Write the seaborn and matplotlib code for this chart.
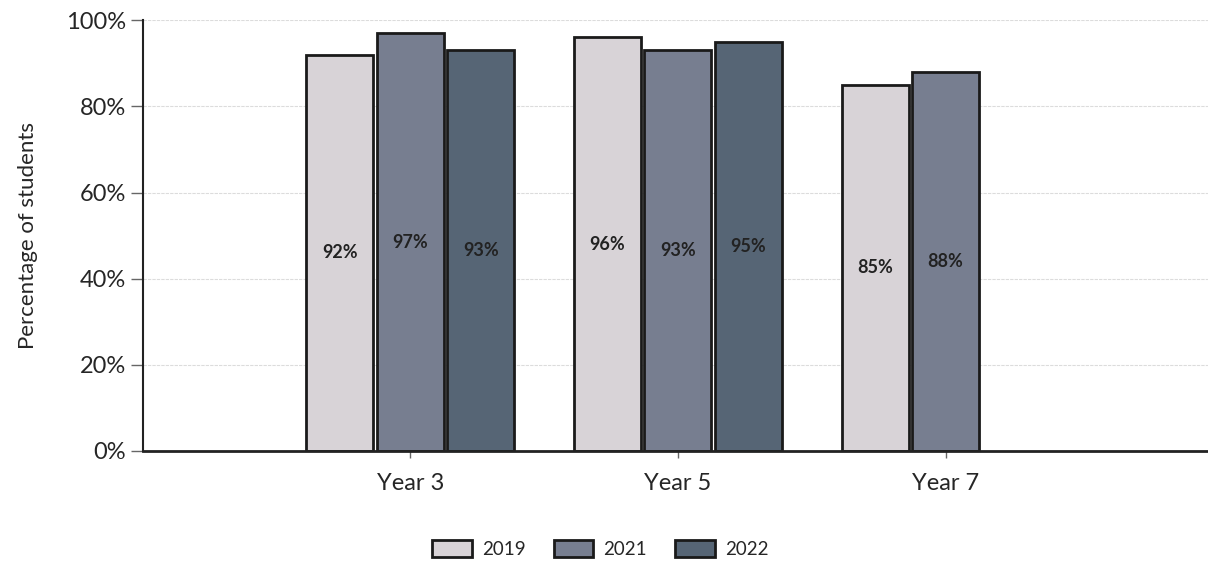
import numpy as np
import pandas as pd
import seaborn as sns
import matplotlib.pyplot as plt
from matplotlib.ticker import PercentFormatter

# values (percent of students)
groups = ['Year 3', 'Year 5', 'Year 7']
years = ['2019', '2021', '2022']
pct_2019 = [92, 96, 85]
pct_2021 = [97, 93, 88]
pct_2022 = [93, 95, np.nan]
colors = ['#d8d3d7', '#777e90', '#566575']

df = pd.DataFrame({
    'group': groups * 3,
    'year': [y for y in years for _ in groups],
    'pct': pct_2019 + pct_2021 + pct_2022,
})

sns.set_style('white')
plt.rcParams['font.family'] = ['Lato', 'DejaVu Sans']

fig = plt.figure(figsize=(12.08, 5.63), dpi=100)
ax = fig.add_axes([0.118, 0.199, 0.882, 0.765])

sns.barplot(data=df, x='group', y='pct', hue='year', palette=colors,
            width=0.79, gap=0.05, edgecolor='#1a1a1a', linewidth=2,
            saturation=1, ax=ax, legend=True)

for cont in ax.containers:
    ax.bar_label(cont, labels=[f'{v:.0f}%' if not np.isnan(v) else '' for v in cont.datavalues],
                 label_type='center', fontsize=13, fontweight='bold', color='#222222')

ax.set_xlim(-1, 2.98)
ax.set_ylim(0, 100)
ax.set_yticks(range(0, 101, 20))
ax.yaxis.set_major_formatter(PercentFormatter(decimals=0))
ax.yaxis.grid(True, color='#dcdcdc', linestyle=(0, (3, 1)), linewidth=0.8)
ax.set_axisbelow(True)

for s in ['top', 'right']:
    ax.spines[s].set_visible(False)
ax.spines['left'].set_linewidth(1.5)
ax.spines['bottom'].set_linewidth(2)
ax.spines['left'].set_color('#222222')
ax.spines['bottom'].set_color('#222222')

ax.tick_params(axis='y', length=9, width=1, color='#666666', labelsize=17, pad=3, left=True)
ax.tick_params(axis='x', length=5, width=1, color='#666666', labelsize=17, pad=11, bottom=True)
ax.set_xlabel('')
ax.set_ylabel('Percentage of students', fontsize=16, labelpad=20)

ax.get_legend().remove()
handles, labels = ax.get_legend_handles_labels()
fig.legend(handles, labels, loc='center', bbox_to_anchor=(0.497, 0.025), ncol=3,
           frameon=False, fontsize=13.5, handlelength=2.1, handleheight=1.0,
           columnspacing=1.5, handletextpad=0.55)

fig.savefig('out.png', dpi=100)
